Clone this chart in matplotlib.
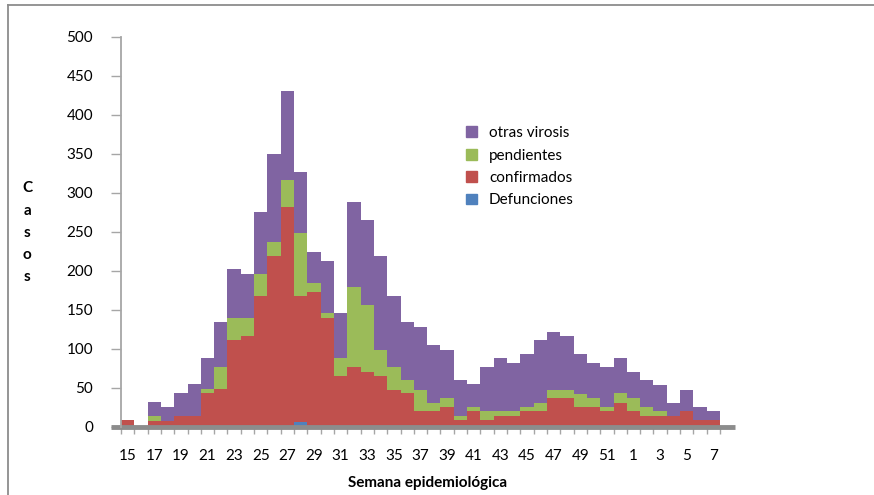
import matplotlib
matplotlib.use("Agg")
import matplotlib.pyplot as plt
from matplotlib.lines import Line2D
from matplotlib.patches import Patch
import numpy as np

# epidemiological weeks (15..52, then 1..7 of next year)
weeks = list(range(15, 53)) + list(range(1, 8))

defunciones = [0, 0, 0, 0, 0, 0, 0, 0, 0, 0, 0, 0, 0, 6, 0, 0, 0, 0, 0, 0,
               0, 0, 0, 0, 0, 0, 0, 0, 0, 0, 0, 0, 0, 0, 0, 0, 0, 0, 0, 0,
               0, 0, 0, 0, 0]
confirmados = [9, 0, 8, 8, 14, 14, 43, 49, 111, 117, 168, 219, 282, 162, 173, 139, 65, 77, 71, 65,
               48, 43, 20, 20, 26, 9, 20, 9, 14, 14, 20, 20, 37, 37, 26, 26, 20, 31, 20, 14,
               14, 14, 20, 9, 9]
pendientes = [0, 0, 6, 0, 0, 0, 6, 28, 29, 23, 28, 18, 34, 80, 12, 7, 23, 102, 85, 34,
              29, 17, 28, 11, 11, 5, 6, 11, 6, 6, 6, 11, 11, 11, 16, 11, 6, 12, 17, 12,
              6, 0, 0, 0, 0]
otras_virosis = [0, 0, 18, 18, 29, 41, 39, 57, 62, 56, 80, 113, 114, 79, 39, 67, 58, 109, 109, 120,
                 91, 74, 80, 74, 62, 46, 29, 57, 68, 62, 68, 80, 74, 69, 52, 45, 51, 45, 34, 34,
                 34, 17, 28, 17, 11]

c_purple = "#8064A2"
c_green = "#9BBB59"
c_red = "#C0504D"
c_blue = "#4F81BD"
grey = "#8C8C8C"

plt.rcParams["font.family"] = ["Lato", "DejaVu Sans"]

fig = plt.figure(figsize=(8.74, 4.95), dpi=100)
ax = fig.add_axes([121 / 874, 68 / 495, (735 - 121) / 874, (458.3 - 68) / 495])

x = np.arange(len(weeks))
d = np.array(defunciones)
c = np.array(confirmados)
p = np.array(pendientes)
o = np.array(otras_virosis)

ax.bar(x, d, width=1, align="edge", color=c_blue, linewidth=0)
ax.bar(x, c, width=1, align="edge", bottom=d, color=c_red, linewidth=0)
ax.bar(x, p, width=1, align="edge", bottom=d + c, color=c_green, linewidth=0)
ax.bar(x, o, width=1, align="edge", bottom=d + c + p, color=c_purple, linewidth=0)

xmax = len(weeks) + 15 / 13.32
ax.set_xlim(0, xmax)
ax.set_ylim(0, 500)

for s in ["top", "right", "bottom"]:
    ax.spines[s].set_visible(False)
ax.spines["left"].set_color("#A6A6A6")
ax.spines["left"].set_linewidth(1.3)

ax.set_yticks(np.arange(0, 501, 50))
ax.set_yticklabels([str(v) for v in range(0, 501, 50)])
ax.tick_params(axis="y", length=7, width=1, color="#A6A6A6", labelsize=11, pad=13)

# x axis: labels at odd weeks, ticks at bar edges
lab_pos = [i + 0.5 for i in range(0, len(weeks), 2)]
ax.set_xticks(lab_pos)
ax.set_xticklabels([str(weeks[i]) for i in range(0, len(weeks), 2)])
ax.tick_params(axis="x", length=0, labelsize=11, pad=16)
ax.set_xticks(np.arange(0, len(weeks) + 1), minor=True)
ax.tick_params(axis="x", which="minor", length=5, width=1, color="#A6A6A6", direction="out")

ax.add_line(Line2D([-0.75, xmax], [0, 0], color=grey, lw=3.5, clip_on=False, solid_capstyle="butt"))

ax.set_xlabel("Semana epidemiológica", fontsize=11, fontweight="bold", labelpad=9)
fig.text(27 / 874, 1 - 233 / 495, "C\na\ns\no\ns", fontsize=11, fontweight="bold",
         ha="center", va="center", linespacing=1.75)

handles = [Patch(color=c_purple), Patch(color=c_green), Patch(color=c_red), Patch(color=c_blue)]
labels = ["otras virosis", "pendientes", "confirmados", "Defunciones"]
fig.legend(handles, labels, loc="upper left", bbox_to_anchor=(460 / 874, 1 - 120 / 495),
           frameon=False, fontsize=11, handlelength=0.7, handleheight=0.7,
           handletextpad=0.8, labelspacing=0.55, borderaxespad=0)

# outer frame (top and left only)
fig.add_artist(Line2D([8 / 874, 1], [1 - 5 / 495, 1 - 5 / 495], color=grey, lw=1.3))
fig.add_artist(Line2D([8 / 874, 8 / 874], [0, 1 - 5 / 495], color=grey, lw=1.3))

fig.savefig("out.png", dpi=100)
